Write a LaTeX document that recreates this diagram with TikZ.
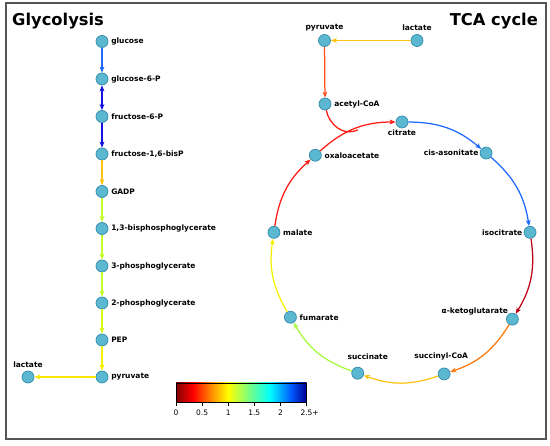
\documentclass[tikz,border=0pt]{standalone}
\usepackage{fontspec}
\setmainfont{DejaVu Sans}
\usetikzlibrary{arrows.meta}

\definecolor{nodeFill}{RGB}{92,184,208}
\definecolor{nodeEdge}{RGB}{48,140,170}
\definecolor{frameGray}{RGB}{85,85,85}
\definecolor{fluxBlue}{RGB}{30,105,255}
\definecolor{fluxNavy}{RGB}{20,20,225}
\definecolor{fluxAmber}{RGB}{255,195,20}
\definecolor{fluxLime}{RGB}{195,255,40}
\definecolor{fluxYellow}{RGB}{245,240,0}
\definecolor{fluxGreen}{RGB}{165,250,60}
\definecolor{fluxRed}{RGB}{255,25,20}
\definecolor{fluxDarkRed}{RGB}{190,0,20}
\definecolor{fluxOrange}{RGB}{255,120,10}
\definecolor{fluxOrangeRed}{RGB}{255,80,25}

\definecolor{jetA}{RGB}{130,0,0}
\definecolor{jetB}{RGB}{255,0,0}
\definecolor{jetC}{RGB}{255,140,0}
\definecolor{jetD}{RGB}{255,255,0}
\definecolor{jetE}{RGB}{120,255,130}
\definecolor{jetF}{RGB}{0,255,255}
\definecolor{jetG}{RGB}{0,90,255}
\definecolor{jetH}{RGB}{0,0,150}
\pgfdeclarehorizontalshading{jetbar}{100bp}{color(0bp)=(jetA); color(25bp)=(jetA);
  color(31.5bp)=(jetB); color(38.5bp)=(jetC); color(45bp)=(jetD); color(53bp)=(jetE);
  color(61bp)=(jetF); color(69bp)=(jetG); color(75bp)=(jetH); color(100bp)=(jetH)}

\begin{document}
\begin{tikzpicture}[x=1pt, y=1pt, >={Stealth[length=6pt,width=4.8pt,inset=1.6pt]},
    metab/.style={circle, draw=nodeEdge, fill=nodeFill, line width=0.7pt, minimum size=12pt, inner sep=0pt},
    lbl/.style={font=\fontsize{7.5}{8.5}\selectfont\bfseries, inner sep=1.2pt},
    lblR/.style={lbl, label distance=1.5pt},
    flux/.style={->, line width=1.25pt},
    bigtitle/.style={font=\fontsize{16.3}{18}\selectfont\bfseries, inner sep=0pt},
    ticklbl/.style={font=\fontsize{7.5}{8.5}\selectfont, inner sep=0pt}]
\useasboundingbox (0,0) rectangle (550,-446);
\draw[frameGray, line width=1.6pt] (6,-3) rectangle (546,-439);

% titles
\node[bigtitle, anchor=base west] (glytitle) at (12,-25.5) {Glycolysis};
\node[bigtitle, anchor=base east] (tcatitle) at (538,-25.5) {TCA cycle};

% glycolysis
\node[metab, label={[lblR]right:glucose}] (glucose) at (102,-41.5) {};
\node[metab, label={[lblR]right:glucose-6-P}] (g6p) at (102,-79) {};
\node[metab, label={[lblR]right:fructose-6-P}] (f6p) at (102,-116.5) {};
\node[metab, label={[lblR]right:{fructose-1,6-bisP}}] (f16bp) at (102,-154) {};
\node[metab, label={[lblR]right:GADP}] (gadp) at (102,-191.5) {};
\node[metab, label={[lblR]right:{1,3-bisphosphoglycerate}}] (bpg) at (102,-228.5) {};
\node[metab, label={[lblR]right:3-phosphoglycerate}] (pg3) at (102,-266) {};
\node[metab, label={[lblR]right:2-phosphoglycerate}] (pg2) at (102,-303) {};
\node[metab, label={[lblR]right:PEP}] (pep) at (102,-340) {};
\node[metab, label={[lblR]right:pyruvate}] (pyrG) at (102,-377) {};
\node[metab, label={[lbl,label distance=2pt]above:lactate}] (lacG) at (28,-377) {};

\draw[flux, fluxBlue] (glucose) -- (g6p);
\draw[flux, <->, fluxNavy] (g6p) -- (f6p);
\draw[flux, fluxNavy] (f6p) -- (f16bp);
\draw[flux, fluxAmber] (f16bp) -- (gadp);
\draw[flux, fluxLime] (gadp) -- (bpg);
\draw[flux, fluxLime] (bpg) -- (pg3);
\draw[flux, fluxLime] (pg3) -- (pg2);
\draw[flux, fluxLime!60!fluxYellow] (pg2) -- (pep);
\draw[flux, fluxYellow] (pep) -- (pyrG);
\draw[flux, fluxYellow!85!fluxAmber] (pyrG) -- (lacG);

% TCA cycle
\coordinate (ctr) at (402,-251.5);
\node[metab, label={[lbl,label distance=2pt]above:pyruvate}] (pyrT) at (324.5,-40.5) {};
\node[metab, label={[lbl,label distance=2pt]above:lactate}] (lacT) at (417,-40.5) {};
\node[metab, label={[lblR]right:acetyl-CoA}] (acetyl) at (325,-104) {};
\node[metab, label={[lbl]below:citrate}] (citrate) at ([shift={(90:129.5)}]ctr) {};
\node[metab, label={[lbl]left:cis-asonitate}] (cis) at ([shift={(49.5:129.5)}]ctr) {};
\node[metab, label={[lbl]left:isocitrate}] (iso) at ([shift={(8.5:129.5)}]ctr) {};
\node[metab, label={[lbl,label distance=-2pt]above left:α-ketoglutarate}] (akg) at ([shift={(-31.5:129.5)}]ctr) {};
\node[metab, label={[lbl,label distance=6pt,xshift=-3pt]above:succinyl-CoA}] (succoa) at ([shift={(-71:129.5)}]ctr) {};
\node[metab, label={[lbl,label distance=6pt,xshift=10pt]above:succinate}] (succ) at ([shift={(-110:129.5)}]ctr) {};
\node[metab, label={[lblR]right:fumarate}] (fum) at ([shift={(-149.5:129.5)}]ctr) {};
\node[metab, label={[lblR]right:malate}] (mal) at ([shift={(171.5:129.5)}]ctr) {};
\node[metab, label={[lblR]right:oxaloacetate}] (oxa) at ([shift={(132:129.5)}]ctr) {};
\coordinate (join) at ([shift={(110:129.5)}]ctr);

\draw[flux, fluxAmber] (lacT) -- (pyrT);
\draw[flux, fluxOrangeRed] (pyrT) -- (acetyl);
\draw[line width=1.25pt, fluxRed] (acetyl) .. controls (329,-124) and (343,-137) .. (join);
\draw[flux, fluxBlue] (citrate) to[bend left=20] (cis);
\draw[flux, fluxBlue] (cis) to[bend left=20] (iso);
\draw[flux, fluxDarkRed] (iso) to[bend left=20] (akg);
\draw[flux, fluxOrange] (akg) to[bend left=20] (succoa);
\draw[flux, fluxAmber] (succoa) to[bend left=19.5] (succ);
\draw[flux, fluxGreen] (succ) to[bend left=20] (fum);
\draw[flux, fluxYellow] (fum) to[bend left=19.5] (mal);
\draw[flux, fluxRed] (mal) to[bend left=20] (oxa);
\draw[flux, fluxRed] (oxa) to[bend left=21] (citrate);

% colour bar
\shadedraw[shading=jetbar, draw=black, line width=0.7pt] (176,-383) rectangle (306.5,-402.5);
\foreach \v/\t [count=\i] in {0/0, 0.5/0.5, 1/1, 1.5/1.5, 2/2, 2.5/2.5\rlap{+}} {
  \draw[line width=0.6pt] (176+52.2*\v,-402.5) -- (176+52.2*\v,-406);
  \node[ticklbl, anchor=base] (tick\i) at (176+52.2*\v,-416) {\t};
}
\end{tikzpicture}
\end{document}
